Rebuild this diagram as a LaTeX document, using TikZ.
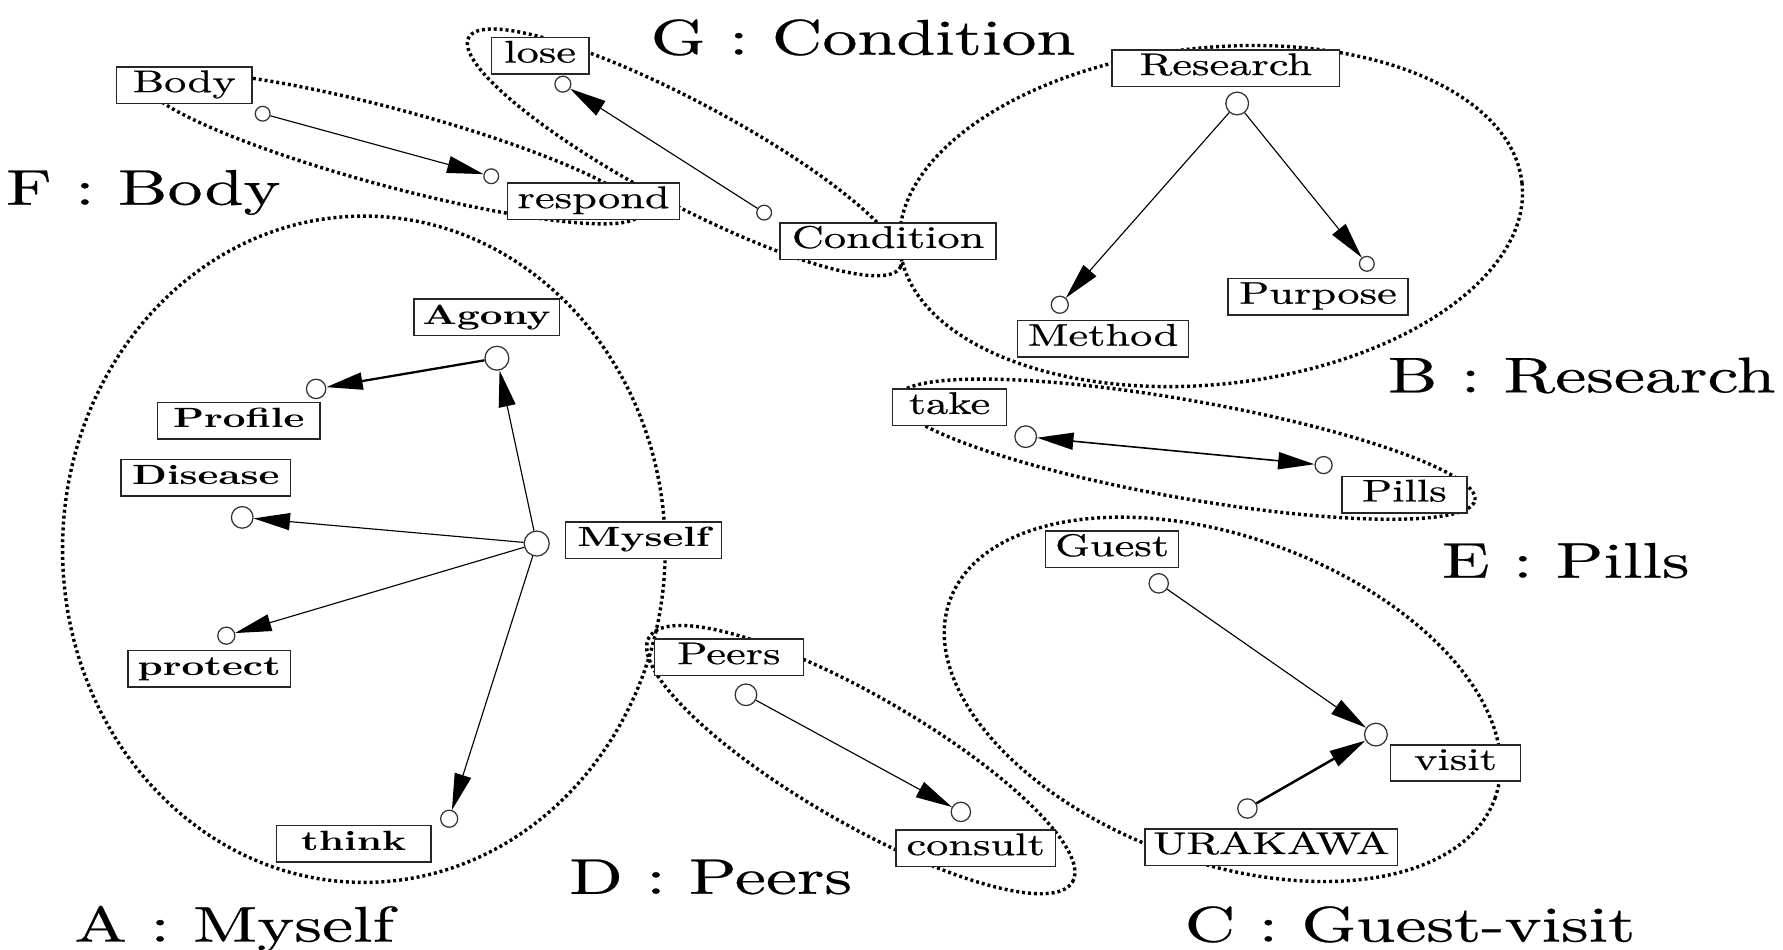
\documentclass[tikz,border=0pt]{standalone}
\usepackage{fontspec}
\newfontfamily\lblfont{lmroman10-regular.otf}[FakeStretch=1.42, FakeBold=0.6]
\newfontfamily\lblbf{lmroman10-bold.otf}[FakeStretch=1.42]
\newfontfamily\grpfont{lmroman10-regular.otf}[FakeStretch=1.4, FakeBold=0.5]
\usetikzlibrary{arrows.meta}
\begin{document}
\begin{tikzpicture}[x=1pt,y=-1pt,
 lbl/.style={draw=black!85, line width=1.3pt, fill=white, inner sep=0pt,
   minimum height=32pt, text height=18pt, text depth=6pt,
   font=\lblfont\fontsize{27.5}{27.5}\selectfont},
 lblb/.style={lbl, font=\lblbf\fontsize{24.5}{24.5}\selectfont},
 grp/.style={anchor=base, inner sep=0pt, font=\grpfont\fontsize{44}{44}\selectfont},
 nd/.style={circle, draw=black!80, line width=1.1pt, fill=white, inner sep=0pt, minimum size=#1},
 nd/.default=12pt,
 tip/.style={Triangle[length=32pt,width=15pt]},
 con/.style={line width=1pt, -{Triangle[length=32pt,width=15pt]}},
 bicon/.style={line width=1pt, {Triangle[length=32pt,width=15pt]}-{Triangle[length=32pt,width=15pt]}},
 ring/.style={line width=3pt, dash pattern=on 2.6pt off 2.6pt},
]
\fill[white] (0,0) rectangle (1568,835);
\useasboundingbox (0,0) rectangle (1568,835);

% group outlines
\draw[ring] (320,483) ellipse [x radius=265pt, y radius=293pt];
\draw[ring, rotate around={6:(1065,190)}] (1065,190) ellipse [x radius=275pt, y radius=148pt];
\draw[ring, rotate around={-15:(345,130)}] (345,130) ellipse [x radius=225pt, y radius=34pt];
\draw[ring, rotate around={-28:(602,134)}] (602,134) ellipse [x radius=215pt, y radius=45pt];
\draw[ring, rotate around={-10:(1043,395)}] (1043,395) ellipse [x radius=258pt, y radius=43pt];
\draw[ring, rotate around={-30:(757,668)}] (757,668) ellipse [x radius=215pt, y radius=56pt];
\draw[ring, rotate around={-20:(1075,615)}] (1075,615) ellipse [x radius=255pt, y radius=143pt];

% group titles
\node[grp] (gG) at (759,48) {G : Condition};
\node[grp] (gF) at (126,180) {F : Body};
\node[grp] (gB) at (1391,345) {B : Research};
\node[grp] (gE) at (1377,508) {E : Pills};
\node[grp] (gD) at (625,786) {D : Peers};
\node[grp] (gA) at (206,828) {A : Myself};
\node[grp] (gC) at (1240,828) {C : Guest-visit};

% labels
\node[lbl, minimum width=119pt] (Lbody) at (162,75) {Body};
\node[lbl, minimum width=86pt] (Llose) at (475,49) {lose};
\node[lbl, minimum width=151pt] (Lrespond) at (522,177) {respond};
\node[lbl, minimum width=190pt] (Lcond) at (781,212) {Condition};
\node[lbl, minimum width=200pt] (Lres) at (1078,60) {Research};
\node[lbl, minimum width=150pt] (Lmethod) at (970,298) {Method};
\node[lbl, minimum width=158pt] (Lpurpose) at (1159,261) {Purpose};
\node[lblb, minimum width=128pt] (Lagony) at (428,279) {Agony};
\node[lblb, minimum width=143pt] (Lprofile) at (210,370) {Profile};
\node[lblb, minimum width=149pt] (Ldisease) at (181,420) {Disease};
\node[lblb, minimum width=137pt] (Lmyself) at (566,475) {Myself};
\node[lblb, minimum width=143pt] (Lprotect) at (184,588) {protect};
\node[lblb, minimum width=136pt] (Lthink) at (311,742) {think};
\node[lbl, minimum width=100pt] (Ltake) at (835,358) {take};
\node[lbl, minimum width=110pt] (Lpills) at (1235,435) {Pills};
\node[lbl, minimum width=117pt] (Lguest) at (978,483) {Guest};
\node[lbl, minimum width=131pt] (Lpeers) at (641,578) {Peers};
\node[lbl, minimum width=140pt] (Lconsult) at (858,746) {consult};
\node[lbl, minimum width=114pt] (Lvisit) at (1280,671) {visit};
\node[lbl, minimum width=222pt] (Lurakawa) at (1118,745) {URAKAWA};

% dots
\node[nd=13pt] (Dbody) at (231,100) {};
\node[nd=13pt] (Drespond) at (432,155) {};
\node[nd=14pt] (Dlose) at (495,74) {};
\node[nd=13pt] (Dcond) at (672,187) {};
\node[nd=20pt] (Dres) at (1088,91) {};
\node[nd=15pt] (Dmethod) at (932,268) {};
\node[nd=13pt] (Dpurpose) at (1202,232) {};
\node[nd=21pt] (Dagony) at (437,315) {};
\node[nd=17pt] (Dprofile) at (278,342) {};
\node[nd=19pt] (Ddisease) at (213,455) {};
\node[nd=22pt] (Dmyself) at (472,478) {};
\node[nd=15pt] (Dprotect) at (199,559) {};
\node[nd=15pt] (Dthink) at (395,720) {};
\node[nd=19pt] (Dtake) at (902,384) {};
\node[nd=15pt] (Dpills) at (1164,409) {};
\node[nd=17pt] (Dguest) at (1019,513) {};
\node[nd=20pt] (Dvisit) at (1210,646) {};
\node[nd=17pt] (Durakawa) at (1097,711) {};
\node[nd=19pt] (Dpeers) at (656,611) {};
\node[nd=17pt] (Dconsult) at (845,714) {};

% connectors
\draw[con] (Dbody) -- (Drespond);
\draw[con] (Dcond) -- (Dlose);
\draw[con] (Dres) -- (Dmethod);
\draw[con] (Dres) -- (Dpurpose);
\draw[con] (Dmyself) -- (Dagony);
\draw[con, line width=2pt] (Dagony) -- (Dprofile);
\draw[con] (Dmyself) -- (Ddisease);
\draw[con] (Dmyself) -- (Dprotect);
\draw[con] (Dmyself) -- (Dthink);
\draw[bicon, line width=1.4pt] (Dtake) -- (Dpills);
\draw[con] (Dpeers) -- (Dconsult);
\draw[con] (Dguest) -- (Dvisit);
\draw[con, line width=2.2pt] (Durakawa) -- (Dvisit);
\end{tikzpicture}
\end{document}
